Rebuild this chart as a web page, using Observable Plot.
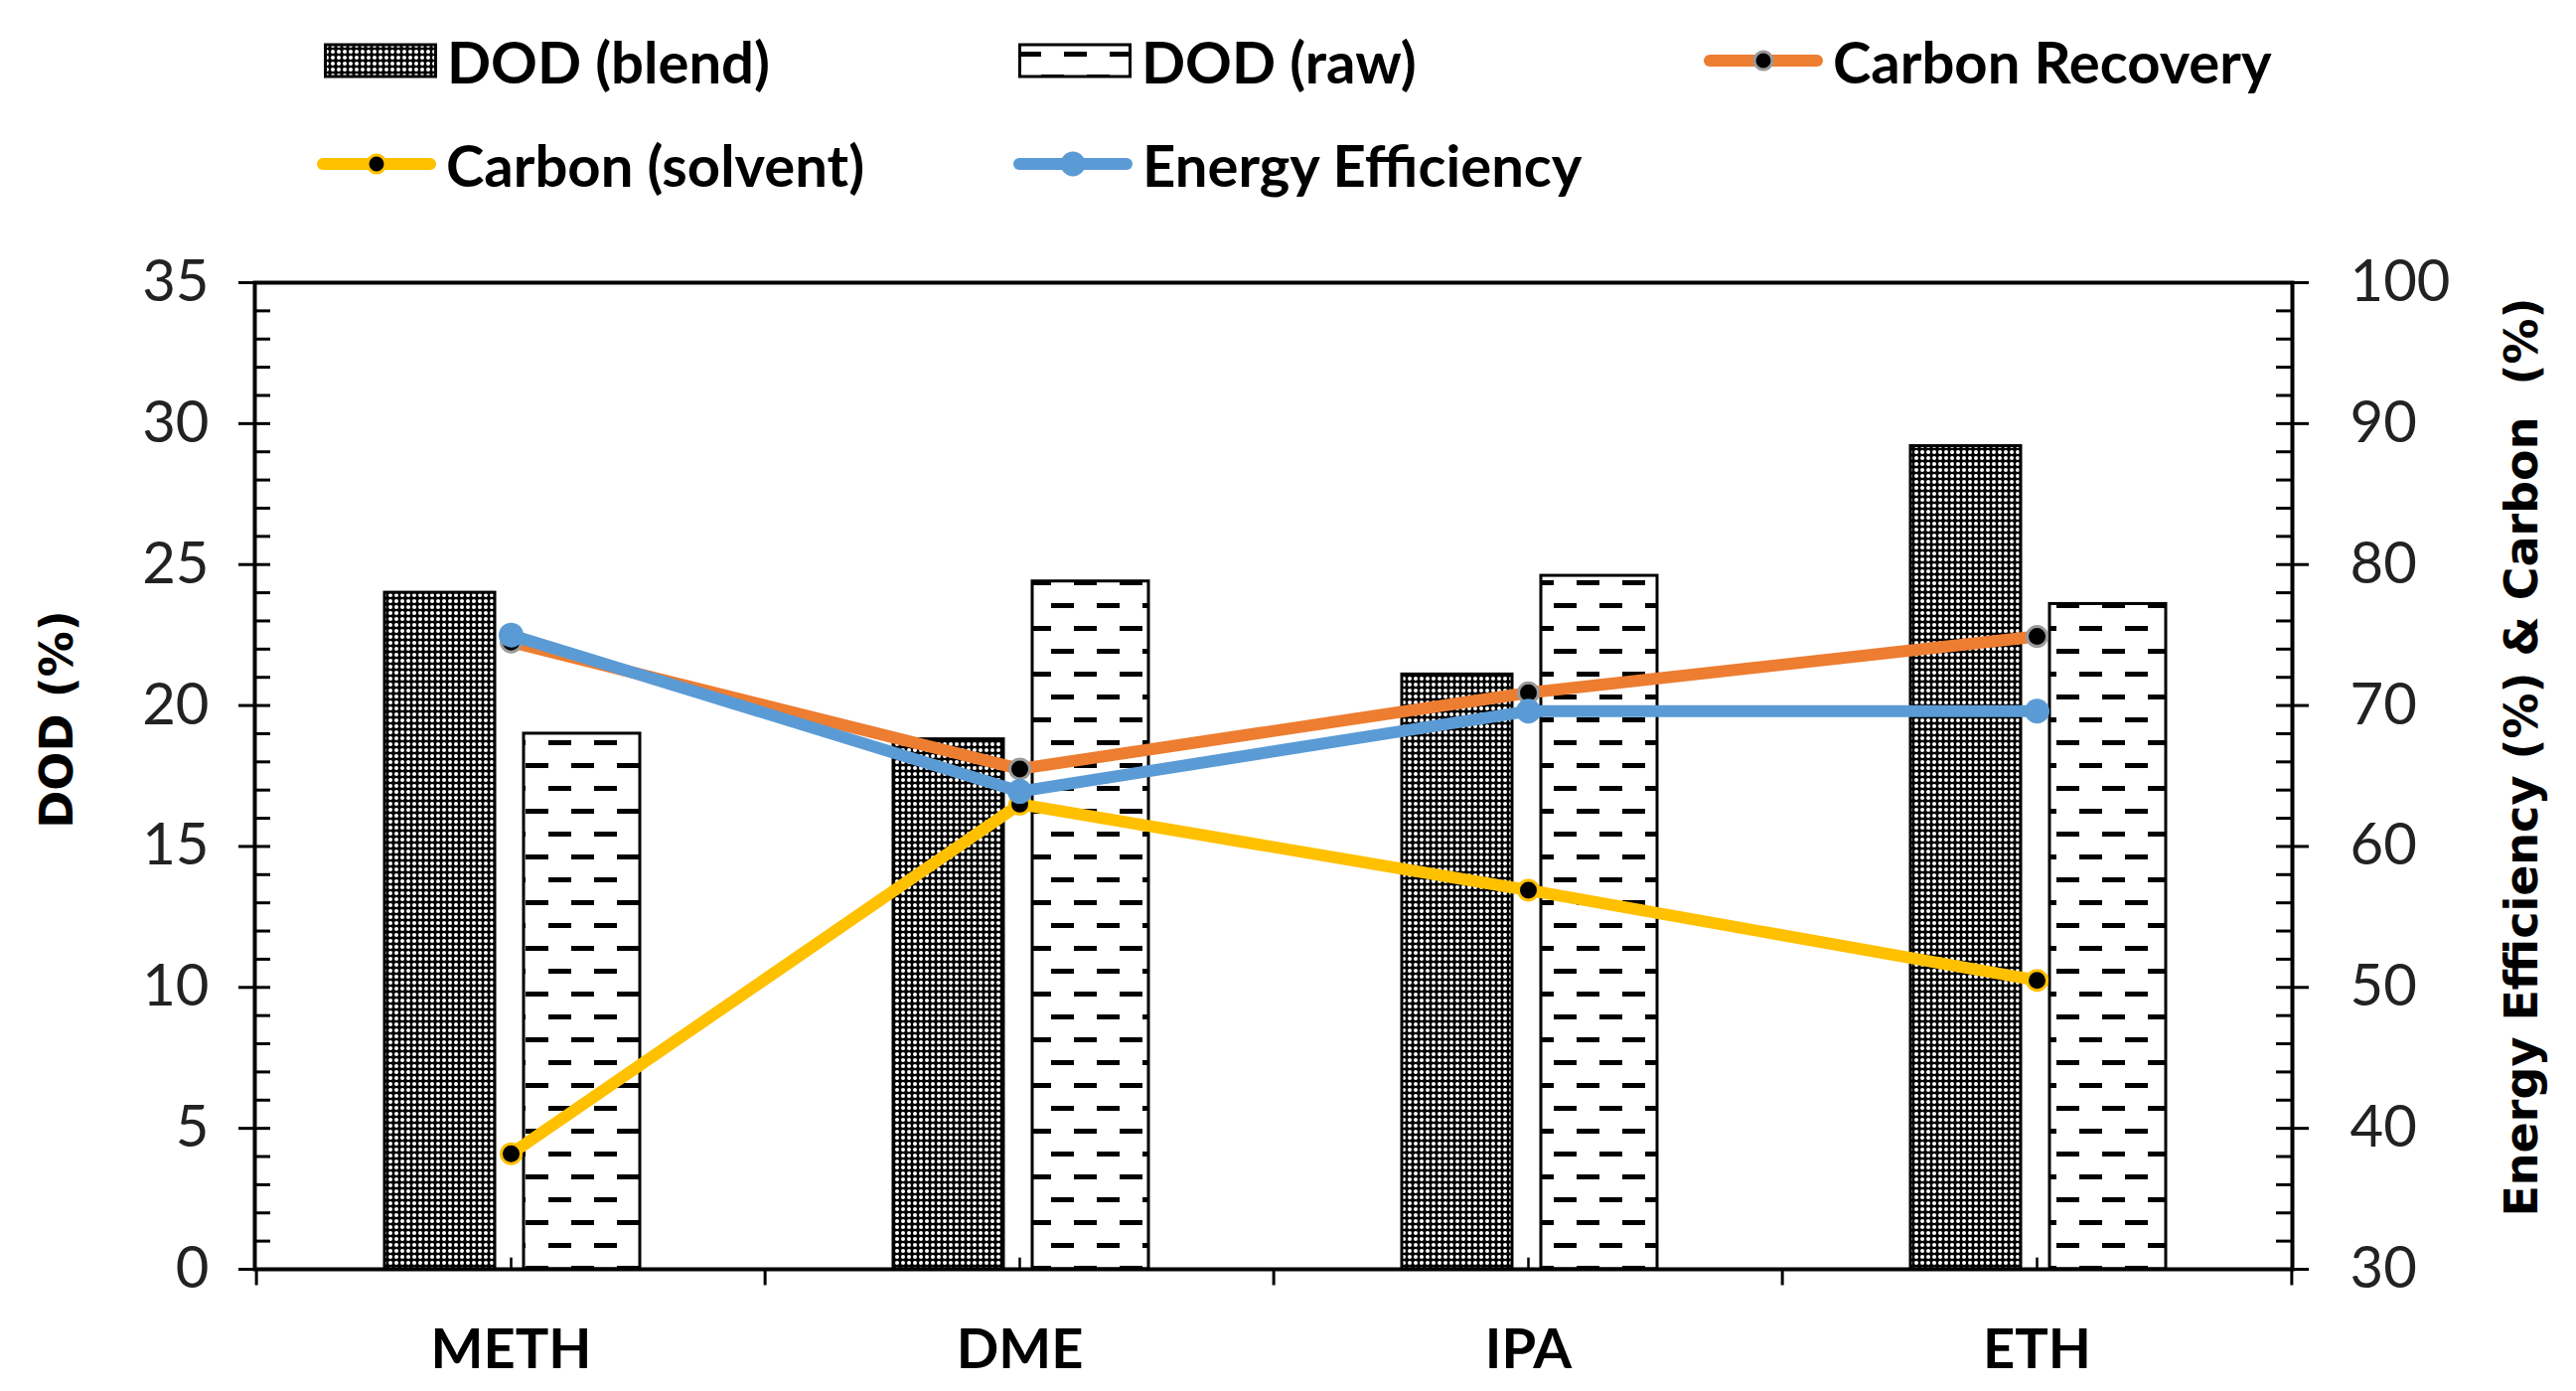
<!DOCTYPE html>
<html><head><meta charset="utf-8">
<script src="https://cdn.jsdelivr.net/npm/d3@7"></script>
<script src="https://cdn.jsdelivr.net/npm/@observablehq/plot@0.6"></script>
<style>
body{margin:0;background:#fff;}
#wrap{position:relative;width:2593px;height:1400px;overflow:hidden;font-family:Lato,"Open Sans",sans-serif;background:#fff;}
#legend{position:relative;width:2593px;height:230px;}
.item{position:absolute;height:70px;display:flex;align-items:center;font-weight:700;font-size:58px;color:#000;white-space:nowrap;}
.item svg{margin-right:10px;}
svg text{white-space:pre;}
</style></head><body>
<svg width="0" height="0" style="position:absolute">
  <defs>
    <pattern id="blendPat" patternUnits="userSpaceOnUse" width="12" height="12">
      <rect width="12" height="12" fill="#000"/>
      <circle cx="3" cy="3" r="2" fill="#fff"/>
      <circle cx="9" cy="3" r="2" fill="#fff"/>
      <circle cx="3" cy="9" r="2" fill="#fff"/>
      <circle cx="9" cy="9" r="2" fill="#fff"/>
    </pattern>
    <pattern id="rawPat" patternUnits="userSpaceOnUse" width="46" height="46">
      <rect width="46" height="46" fill="#fff"/>
      <rect x="0" y="9" width="23" height="5" fill="#000"/>
      <rect x="23" y="32" width="23" height="5" fill="#000"/>
    </pattern>
  </defs>
</svg>
<div id="wrap"><div id="legend"></div><div id="chart"></div></div>
<script>
// ---- data ----
const categories = ["METH", "DME", "IPA", "ETH"];
const dodBlend = [24.0, 18.8, 21.1, 29.2];
const dodRaw = [19.0, 24.4, 24.6, 23.6];
const carbonRecovery = [74.5, 65.5, 70.9, 74.9];
const carbonSolvent = [38.2, 63.0, 56.9, 50.5];
const energyEfficiency = [75.0, 63.9, 69.6, 69.6];
const leftTicks = [0, 5, 10, 15, 20, 25, 30, 35];
const rightTicks = [30, 40, 50, 60, 70, 80, 90, 100];
const minorTicks = d3.range(0, 36, 1);

// right axis (30..100) mapped onto left axis domain (0..35)
const toLeft = v => (v - 30) * 35 / 70;
const fromLeft = v => v * 70 / 35 + 30;

const rows = categories.map((c, i) => ({
  cat: c, blend: dodBlend[i], raw: dodRaw[i],
  rec: carbonRecovery[i], sol: carbonSolvent[i], eff: energyEfficiency[i]
}));

const W = 2593, H = 1170;
const mL = 256, mR = 286, mT = 54, mB = 123;
const fw = W - mL - mR;
const bw = fw / categories.length;

const ORANGE = "#ED7D31", BLUE = "#5B9BD5", YELLOW = "#FFC000";

const plot = Plot.plot({
  width: W, height: H,
  marginLeft: mL, marginRight: mR, marginTop: mT, marginBottom: mB,
  style: {fontFamily: "Lato, 'Open Sans', sans-serif", background: "#fff", color: "#000", overflow: "visible"},
  x: {type: "band", domain: categories, padding: 0, axis: null},
  y: {domain: [0, 35], axis: null},
  marks: [
    Plot.barY(rows, {x: "cat", y: "blend", fill: "url(#blendPat)", stroke: "#000", strokeWidth: 3, insetLeft: 129, insetRight: 272}),
    Plot.barY(rows, {x: "cat", y: "raw", fill: "url(#rawPat)", stroke: "#000", strokeWidth: 3, insetLeft: 269, insetRight: 126}),
    // minor inside ticks
    Plot.ruleY(minorTicks, {y: d => d, stroke: "#000", strokeWidth: 3, insetRight: fw - 16}),
    Plot.ruleY(minorTicks, {y: d => d, stroke: "#000", strokeWidth: 3, insetLeft: fw - 16}),
    // left axis
    Plot.axisY({anchor: "left", ticks: leftTicks, tickSize: 16, tickPadding: 30, fontSize: 58, label: null, strokeWidth: 3, fill: "#222"}),
    // right axis
    Plot.axisY({anchor: "right", ticks: rightTicks.map(toLeft), tickFormat: d => String(Math.round(fromLeft(d))), tickSize: 16, tickPadding: 42, fontSize: 58, label: null, strokeWidth: 3, fill: "#222"}),
    // x axis labels
    Plot.axisX({ticks: categories, tickSize: 0, tickPadding: 60, fontSize: 56, fontWeight: "bold", label: null}),
    // x boundary ticks
    Plot.ruleX(categories, {x: d => d, dx: -bw / 2, y1: 0, y2: -0.58, stroke: "#000", strokeWidth: 3}),
    Plot.ruleX(categories.slice(-1), {x: d => d, dx: bw / 2, y1: 0, y2: -0.58, stroke: "#000", strokeWidth: 3}),
    Plot.ruleX(categories, {x: d => d, y1: 0, y2: 0.4, stroke: "#000", strokeWidth: 2.5}),
    Plot.frame({stroke: "#000", strokeWidth: 4}),
    // lines
    Plot.line(rows, {x: "cat", y: d => toLeft(d.rec), stroke: ORANGE, strokeWidth: 12, strokeLinejoin: "round"}),
    Plot.line(rows, {x: "cat", y: d => toLeft(d.sol), stroke: YELLOW, strokeWidth: 12, strokeLinejoin: "round"}),
    Plot.dot(rows, {x: "cat", y: d => toLeft(d.rec), r: 10, fill: "#000", stroke: "#9a9a9a", strokeWidth: 3}),
    Plot.dot(rows, {x: "cat", y: d => toLeft(d.sol), r: 10, fill: "#000", stroke: YELLOW, strokeWidth: 3}),
    Plot.line(rows, {x: "cat", y: d => toLeft(d.eff), stroke: BLUE, strokeWidth: 12, strokeLinejoin: "round"}),
    Plot.dot(rows, {x: "cat", y: d => toLeft(d.eff), r: 12.5, fill: BLUE}),
    // axis titles
    Plot.text(["DOD (%)"], {frameAnchor: "left", textAnchor: "middle", dx: -198, dy: -57, rotate: -90, fontSize: 46, fontWeight: "bold", fontFamily: "DejaVu Sans", fill: "#000"}),
    Plot.text(["Energy Efficiency (%) & Carbon  (%)"], {frameAnchor: "right", textAnchor: "middle", dx: 232, dy: -19, rotate: -90, fontSize: 46, fontWeight: "bold", fontFamily: "DejaVu Sans", fill: "#000"})
  ]
});
document.getElementById("chart").appendChild(plot);

// ---- legend ----
const legendItems = [
  {label: "DOD (blend)", kind: "bar", fill: "url(#blendPat)", left: 326, cy: 61},
  {label: "DOD (raw)", kind: "bar", fill: "url(#rawPat)", left: 1025, cy: 61},
  {label: "Carbon Recovery", kind: "line", stroke: ORANGE, dot: "#000", dotStroke: "#9a9a9a", left: 1715, cy: 61},
  {label: "Carbon (solvent)", kind: "line", stroke: YELLOW, dot: "#000", dotStroke: YELLOW, left: 319, cy: 165},
  {label: "Energy Efficiency", kind: "line", stroke: BLUE, dot: BLUE, dotStroke: BLUE, left: 1020, cy: 165}
];
const legend = document.getElementById("legend");
for (const it of legendItems) {
  const div = document.createElement("div");
  div.className = "item";
  div.style.left = it.left + "px";
  div.style.top = (it.cy - 35) + "px";
  let sw;
  if (it.kind === "bar") {
    sw = `<svg width="114" height="36"><rect x="1.5" y="2" width="111" height="32" fill="${it.fill}" stroke="#000" stroke-width="3"/></svg>`;
  } else {
    sw = `<svg width="120" height="40"><line x1="6" y1="20" x2="114" y2="20" stroke="${it.stroke}" stroke-width="12" stroke-linecap="round"/><circle cx="60" cy="20" r="${it.dot === BLUE ? 11 : 9}" fill="${it.dot}" stroke="${it.dotStroke}" stroke-width="3"/></svg>`;
  }
  div.innerHTML = sw + `<span>${it.label}</span>`;
  legend.appendChild(div);
}
</script>
</body></html>
